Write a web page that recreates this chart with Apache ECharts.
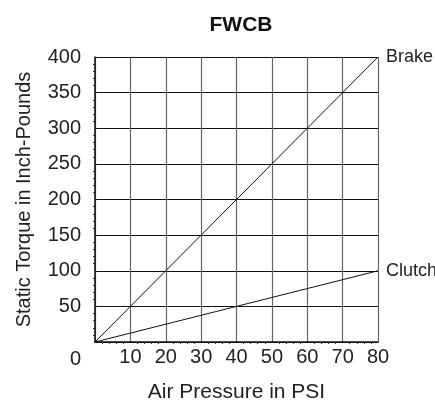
<!DOCTYPE html>
<html>
<head>
<meta charset="utf-8">
<script src="https://cdn.jsdelivr.net/npm/echarts@6/dist/echarts.min.js"></script>
<style>
  html, body { margin: 0; padding: 0; background: #fff; }
  #chart { width: 435px; height: 408px; }
</style>
</head>
<body>
<div id="chart"></div>
<script>
// 数据
const pressure = [0, 80]
const brakeTorque = [0, 400]
const clutchTorque = [0, 100]
const seriesNames = ['Brake', 'Clutch']

const FONT = 'Liberation Sans'

const chart = echarts.init(document.getElementById('chart'))

const toPairs = (ys) => pressure.map((x, i) => [x, ys[i]])

const option = {
  animation: false,
  title: {
    text: 'FWCB',
    left: 236,
    top: 10,
    textAlign: 'center',
    textStyle: { fontFamily: FONT, fontWeight: 'bold', fontSize: 21, color: '#111' }
  },
  grid: { left: 95, right: 57, top: 57, bottom: 63 },
  xAxis: {
    type: 'value',
    min: 0,
    max: 80,
    interval: 10,
    name: 'Air Pressure in PSI',
    nameLocation: 'middle',
    nameGap: 40,
    nameTextStyle: { fontFamily: FONT, fontSize: 21, color: '#222' },
    axisLine: { show: true, lineStyle: { color: '#111', width: 1.5 } },
    axisTick: { show: false },
    minorTick: { show: true, splitNumber: 5, length: 2, lineStyle: { color: '#333' } },
    axisLabel: {
      fontFamily: FONT, fontSize: 20, color: '#222', margin: 5,
      formatter: (v) => (v === 0 ? '' : String(v))
    },
    splitLine: { show: true, lineStyle: { color: '#666', width: 1.2 } }
  },
  yAxis: {
    type: 'value',
    min: 0,
    max: 400,
    interval: 50,
    name: 'Static Torque in Inch-Pounds',
    nameLocation: 'middle',
    nameGap: 61,
    nameTextStyle: { fontFamily: FONT, fontSize: 20, color: '#222' },
    axisLine: { show: true, lineStyle: { color: '#111', width: 1.5 } },
    axisTick: { show: false },
    minorTick: { show: true, splitNumber: 5, length: 2, lineStyle: { color: '#333' } },
    axisLabel: {
      fontFamily: FONT, fontSize: 20, color: '#222', margin: 14,
      formatter: (v) => (v === 0 ? '{z|0}' : String(v)),
      rich: { z: { fontFamily: FONT, fontSize: 20, color: '#222', padding: [34, 0, 0, 0] } }
    },
    splitLine: { show: true, lineStyle: { color: '#111', width: 1.2 } }
  },
  series: [brakeTorque, clutchTorque].map((ys, i) => ({
    name: seriesNames[i],
    type: 'line',
    data: toPairs(ys),
    symbol: 'none',
    lineStyle: { color: '#111', width: 1 },
    endLabel: {
      show: true,
      formatter: '{a}',
      distance: 8,
      fontFamily: FONT,
      fontSize: 18,
      color: '#222'
    }
  }))
}

chart.setOption(option)
</script>
</body>
</html>
